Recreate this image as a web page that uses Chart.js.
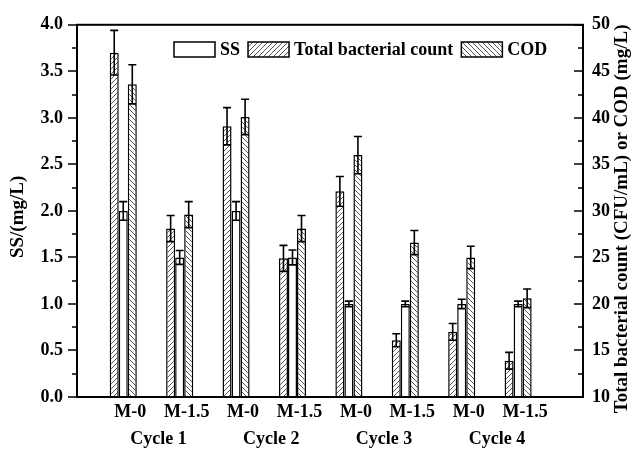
<!DOCTYPE html>
<html>
<head>
<meta charset="utf-8">
<script src="https://cdn.jsdelivr.net/npm/chart.js@4.4.1/dist/chart.umd.min.js"></script>
<style>
    html, body { margin: 0; padding: 0; background: #fff; }
    canvas { display: block; }
</style>
</head>
<body>
<canvas id="chart" width="634" height="453"></canvas>
<script>
// data
const groupLabels = ['M-0', 'M-1.5', 'M-0', 'M-1.5', 'M-0', 'M-1.5', 'M-0', 'M-1.5'];
const cycleLabels = ['Cycle 1', 'Cycle 2', 'Cycle 3', 'Cycle 4'];
const ssValues = [2.0, 1.5, 2.0, 1.5, 1.0, 1.0, 1.0, 1.0];
const ssErrors = [0.1, 0.075, 0.1, 0.08, 0.03, 0.03, 0.05, 0.03];
const bacteriaValues = [47.0, 28.1, 39.1, 24.9, 32.1, 16.1, 17.0, 13.9];
const bacteriaErrors = [2.4, 1.4, 2.0, 1.4, 1.6, 0.7, 0.9, 0.9];
const codValues = [43.6, 29.6, 40.1, 28.1, 36.0, 26.6, 25.0, 20.6];
const codErrors = [2.1, 1.4, 1.9, 1.4, 2.0, 1.3, 1.2, 1.0];

const FONT = '"Liberation Serif", "Times New Roman", serif';
const FONT_SIZE = 18;

// helper functions
function hatch(forward) {
    const size = 5;
    const c = document.createElement('canvas');
    c.width = size; c.height = size;
    const g = c.getContext('2d');
    g.fillStyle = '#fff';
    g.fillRect(0, 0, size, size);
    g.strokeStyle = '#444';
    g.lineWidth = 0.9;
    g.beginPath();
    if (forward) {
        g.moveTo(0, size); g.lineTo(size, 0);
        g.moveTo(-1, 1); g.lineTo(1, -1);
        g.moveTo(size - 1, size + 1); g.lineTo(size + 1, size - 1);
    } else {
        g.moveTo(0, 0); g.lineTo(size, size);
        g.moveTo(-1, size - 1); g.lineTo(1, size + 1);
        g.moveTo(size - 1, -1); g.lineTo(size + 1, 1);
    }
    g.stroke();
    return document.getElementById('chart').getContext('2d').createPattern(c, 'repeat');
}

function toPoints(values) {
    return values.map((v, i) => ({ x: i + 1, y: v }));
}

const slashFill = hatch(true);
const backFill = hatch(false);

const errorBars = {
    id: 'errorBars',
    afterDatasetsDraw(chart) {
        const ctx = chart.ctx;
        ctx.save();
        ctx.strokeStyle = '#000';
        ctx.lineWidth = 1.6;
        chart.data.datasets.forEach((ds, i) => {
            const meta = chart.getDatasetMeta(i);
            const yScale = chart.scales[ds.yAxisID];
            meta.data.forEach((bar, j) => {
                const v = ds.data[j].y, e = ds.errors[j];
                const yTop = yScale.getPixelForValue(v + e);
                const yBot = yScale.getPixelForValue(v - e);
                const half = bar.width / 2 - 0.5;
                ctx.beginPath();
                ctx.moveTo(bar.x, yTop); ctx.lineTo(bar.x, yBot);
                ctx.moveTo(bar.x - half, yTop); ctx.lineTo(bar.x + half, yTop);
                ctx.moveTo(bar.x - half, yBot); ctx.lineTo(bar.x + half, yBot);
                ctx.stroke();
            });
        });
        ctx.restore();
    }
};

const frame = {
    id: 'frame',
    afterDraw(chart) {
        const ctx = chart.ctx;
        const a = chart.chartArea;
        const left = chart.scales.ySS, right = chart.scales.yRight;
        ctx.save();
        ctx.strokeStyle = '#000';
        ctx.lineWidth = 2;
        ctx.strokeRect(a.left, a.top, a.right - a.left, a.bottom - a.top);
        ctx.lineWidth = 1.6;
        ctx.beginPath();
        for (let v = 0; v <= 4.001; v += 0.25) {
            const y = Math.round(left.getPixelForValue(v));
            const len = Math.abs(v * 2 - Math.round(v * 2)) < 1e-6 ? 9 : 5;
            ctx.moveTo(a.left, y); ctx.lineTo(a.left - len, y);
        }
        for (let v = 10; v <= 50.001; v += 2.5) {
            const y = Math.round(right.getPixelForValue(v));
            const len = Math.abs(v / 5 - Math.round(v / 5)) < 1e-6 ? 9 : 5;
            ctx.moveTo(a.right, y); ctx.lineTo(a.right - len, y);
        }
        ctx.stroke();

        // axis titles, read bottom to top
        ctx.fillStyle = '#000';
        ctx.font = `bold 19px ${FONT}`;
        ctx.textAlign = 'center';
        ctx.textBaseline = 'middle';
        const midY = (a.top + a.bottom) / 2;
        ctx.save();
        ctx.translate(18, midY + 6);
        ctx.rotate(-Math.PI / 2);
        ctx.fillText('SS/(mg/L)', 0, 0);
        ctx.restore();
        ctx.save();
        ctx.translate(622, midY + 8);
        ctx.rotate(-Math.PI / 2);
        ctx.fillText('Total bacterial count (CFU/mL) or COD (mg/L)', 0, 0);
        ctx.restore();

        // legend, inside the plot at the top
        ctx.font = `bold ${FONT_SIZE}px ${FONT}`;
        const items = [chart.data.datasets[1], chart.data.datasets[0], chart.data.datasets[2]];
        let x = 174;
        const y = 42, boxW = 41, boxH = 15;
        ctx.textAlign = 'left';
        for (const ds of items) {
            ctx.fillStyle = ds.backgroundColor;
            ctx.fillRect(x, y, boxW, boxH);
            ctx.lineWidth = 1.5;
            ctx.strokeRect(x, y, boxW, boxH);
            ctx.fillStyle = '#000';
            ctx.fillText(ds.label, x + boxW + 5, y + boxH / 2 + 1);
            x += boxW + 5 + ctx.measureText(ds.label).width + 8;
        }
        ctx.restore();
    }
};

const tickFont = { family: FONT, size: FONT_SIZE, weight: 'bold' };

new Chart(document.getElementById('chart'), {
    type: 'bar',
    data: {
        datasets: [{
            label: 'Total bacterial count',
            data: toPoints(bacteriaValues),
            errors: bacteriaErrors,
            yAxisID: 'yRight',
            backgroundColor: slashFill,
            borderColor: '#000',
            borderWidth: 1.5,
        }, {
            label: 'SS',
            data: toPoints(ssValues),
            errors: ssErrors,
            yAxisID: 'ySS',
            backgroundColor: '#fff',
            borderColor: '#000',
            borderWidth: 1.5,
        }, {
            label: 'COD',
            data: toPoints(codValues),
            errors: codErrors,
            yAxisID: 'yRight',
            backgroundColor: backFill,
            borderColor: '#000',
            borderWidth: 1.5,
        }]
    },
    options: {
        responsive: false,
        animation: false,
        devicePixelRatio: 1,
        layout: { padding: { top: 22, left: 0, right: 0, bottom: 0 } },
        datasets: {
            bar: { categoryPercentage: 0.48, barPercentage: 1.0 }
        },
        plugins: {
            legend: { display: false },
            tooltip: { enabled: false },
        },
        scales: {
            x: {
                type: 'linear', position: 'bottom', min: 0.18, max: 9.15, offset: false,
                grid: { display: false, drawTicks: false, tickLength: 0 },
                border: { display: false },
                afterBuildTicks: s => { s.ticks = groupLabels.map((_, i) => ({ value: i + 1 })); },
                afterFit: s => { s.height = 27; },
                ticks: {
                    callback: v => groupLabels[Math.round(v) - 1],
                    font: tickFont, color: '#000', padding: 5, labelOffset: 7,
                    maxRotation: 0, autoSkip: false,
                },
            },
            cycle: {
                type: 'linear', position: 'bottom', min: 0.18, max: 9.15, offset: false,
                grid: { display: false, drawTicks: false, tickLength: 0 },
                border: { display: false },
                afterBuildTicks: s => { s.ticks = cycleLabels.map((_, i) => ({ value: 2 * i + 1.5 })); },
                afterFit: s => { s.height = 29; },
                ticks: {
                    callback: v => cycleLabels[Math.round((v - 1.5) / 2)],
                    font: tickFont, color: '#000', padding: 5, labelOffset: 7,
                    maxRotation: 0, autoSkip: false,
                },
            },
            ySS: {
                type: 'linear', position: 'left', min: 0, max: 4,
                grid: { display: false, drawTicks: false, tickLength: 0 },
                border: { display: false },
                afterFit: s => { s.width = 77; },
                ticks: {
                    stepSize: 0.5, callback: v => v.toFixed(1),
                    font: tickFont, color: '#000', padding: 14,
                },
            },
            yRight: {
                type: 'linear', position: 'right', min: 10, max: 50,
                grid: { display: false, drawTicks: false, tickLength: 0 },
                border: { display: false },
                afterFit: s => { s.width = 51; },
                ticks: {
                    stepSize: 5,
                    font: tickFont, color: '#000', padding: 9,
                },
            },
        },
    },
    plugins: [errorBars, frame],
});
</script>
</body>
</html>
